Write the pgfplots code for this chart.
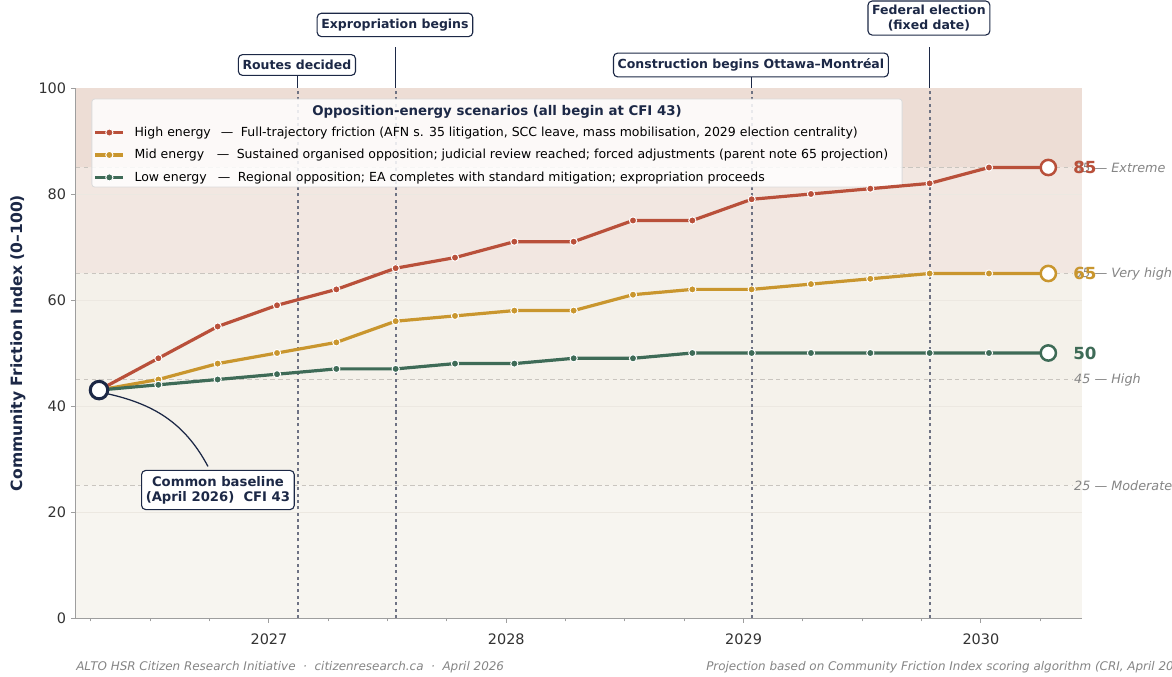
\documentclass[border=0pt]{standalone}
\usepackage{fontspec}
\setmainfont{DejaVu Sans}
\setsansfont{DejaVu Sans}
\usepackage{pgfplots}
\usepackage{pgfplotstable}
\pgfplotsset{compat=1.18}

\definecolor{high}{HTML}{B9503A}
\definecolor{mid}{HTML}{C9962E}
\definecolor{low}{HTML}{3E6B57}
\definecolor{navy}{HTML}{1C2846}
\definecolor{evline}{HTML}{6E7283}
\definecolor{zonedash}{HTML}{C9C5BF}
\definecolor{zonetxt}{HTML}{858585}
\definecolor{faint}{HTML}{ECE8E1}
\definecolor{bandA}{HTML}{EDDDD5}
\definecolor{bandB}{HTML}{F2E7E1}
\definecolor{bandC}{HTML}{F4F1EA}
\definecolor{bandD}{HTML}{F5F2EB}
\definecolor{bandE}{HTML}{F7F5F0}
\definecolor{spine}{HTML}{9E9E9E}
\definecolor{ticktxt}{HTML}{333333}

% quarterly projection, April 2026 to April 2030
\pgfplotstableread{
x        high mid low
2026.284 43   43  43
2026.534 49   45  44
2026.784 55   48  45
2027.034 59   50  46
2027.284 62   52  47
2027.534 66   56  47
2027.784 68   57  48
2028.034 71   58  48
2028.284 71   58  49
2028.534 75   61  49
2028.784 75   62  50
2029.034 79   62  50
2029.284 80   63  50
2029.534 81   64  50
2029.784 82   65  50
2030.034 85   65  50
2030.284 85   65  50
}\cfi

\tikzset{
  evbox/.style={draw=navy, line width=0.8pt, fill=white, rounded corners=3pt,
    inner xsep=3pt, inner ysep=4pt, text=navy, font=\fontsize{9}{10.5}\selectfont\bfseries, align=center},
  zonelbl/.style={anchor=west, inner sep=0pt, text=zonetxt, font=\fontsize{9.2}{11}\selectfont\itshape},
  endlbl/.style={anchor=west, inner sep=0pt, font=\fontsize{12}{14}\selectfont\bfseries},
}

\begin{document}
\begin{tikzpicture}
\fill[white] (0,0) rectangle (843.84pt,487.44pt);
\begin{axis}[
  at={(54.72pt,42.48pt)}, anchor=south west,
  width=724.32pt, height=381.6pt, scale only axis,
  xmin=2026.187, xmax=2030.426, ymin=0, ymax=100,
  axis x line*=bottom, axis y line*=left,
  axis line style={draw=spine, line width=0.8pt},
  xtick={2027,2028,2029,2030},
  xticklabels={2027,2028,2029,2030},
  minor xtick={2026.25,2026.5,2026.75,2027.25,2027.5,2027.75,2028.25,2028.5,2028.75,2029.25,2029.5,2029.75,2030.25},
  ytick={0,20,40,60,80,100},
  tick align=outside,
  major tick length=3.6pt, minor tick length=2.4pt,
  tick style={draw=spine, line width=0.7pt},
  /pgf/number format/assume math mode=true,
  ticklabel style={font=\fontsize{10.4}{12}\selectfont, text=ticktxt},
  x tick label style={yshift=-4pt},
  clip=false,
  legend style={at={(0.0175,0.930)}, anchor=north west, draw=none, fill=none,
    font=\fontsize{9}{11}\selectfont, row sep=5.8pt, inner sep=0pt,
    nodes={inner sep=1pt},
    /tikz/every odd column/.append style={column sep=6pt}},
  legend cell align=left,
  legend image code/.code={%
    \draw[mark repeat=2,mark phase=2,#1] plot coordinates {(0pt,0pt) (10pt,0pt) (20pt,0pt)};},
]
% risk bands
\fill[bandE] (axis cs:2026.187,0)  rectangle (axis cs:2030.426,25);
\fill[bandD] (axis cs:2026.187,25) rectangle (axis cs:2030.426,45);
\fill[bandC] (axis cs:2026.187,45) rectangle (axis cs:2030.426,65);
\fill[bandB] (axis cs:2026.187,65) rectangle (axis cs:2030.426,85);
\fill[bandA] (axis cs:2026.187,85) rectangle (axis cs:2030.426,100);
% faint grid
\pgfplotsinvokeforeach{20,40,60,80}{
  \draw[faint, line width=0.5pt] (axis cs:2026.187,#1) -- (axis cs:2030.426,#1);}
% zone thresholds
\pgfplotsinvokeforeach{25,45,65,85}{
  \draw[zonedash, line width=0.8pt, dash pattern=on 3.2pt off 2.4pt] (axis cs:2026.187,#1) -- (axis cs:2030.385,#1);}
\node[zonelbl] at (axis cs:2030.392,85) {85 — Extreme};
\node[zonelbl] at (axis cs:2030.392,65) {65 — Very high};
\node[zonelbl] at (axis cs:2030.392,45) {45 — High};
\node[zonelbl] at (axis cs:2030.392,25) {25 — Moderate};
% events
\pgfplotsinvokeforeach{2027.122,2027.535,2029.035,2029.785}{
  \draw[evline, line width=1.2pt, dash pattern=on 2.2pt off 2.4pt] (axis cs:#1,0) -- (axis cs:#1,100);}
\draw[navy, line width=0.8pt] (axis cs:2027.122,100) -- (axis cs:2027.122,102.3);
\draw[navy, line width=0.8pt] (axis cs:2027.535,100) -- (axis cs:2027.535,107.8);
\draw[navy, line width=0.8pt] (axis cs:2029.035,100) -- (axis cs:2029.035,102.3);
\draw[navy, line width=0.8pt] (axis cs:2029.785,100) -- (axis cs:2029.785,107.8);
\node[evbox] at (axis cs:2027.118,104.34) {Routes decided};
\node[evbox] at (axis cs:2027.531,111.9) {Expropriation begins};
\node[evbox] at (axis cs:2029.031,104.34) {Construction begins Ottawa–Montréal};
\node[evbox, inner ysep=3pt] at (axis cs:2029.781,113.2) {Federal election\\(fixed date)};
% legend frame and title
\draw[draw=black!14, fill=white, fill opacity=0.85, rounded corners=2pt, line width=0.6pt]
  (axis cs:2026.254,97.92) rectangle (axis cs:2029.668,81.32);
\node[text=navy, font=\fontsize{9.6}{11}\selectfont\bfseries] at (axis cs:2027.961,95.5)
  {Opposition-energy scenarios (all begin at CFI 43)};
% scenarios
\addplot[color=high, line width=2.3pt, mark=*, mark size=2.6pt,
  mark options={fill=high, draw=white, line width=0.7pt}] table[x=x,y=high] {\cfi};
\addlegendentry{High energy\hspace{0.8em}—\hspace{0.6em}Full-trajectory friction (AFN s. 35 litigation, SCC leave, mass mobilisation, 2029 election centrality)}
\addplot[color=mid, line width=2.3pt, mark=*, mark size=2.6pt,
  mark options={fill=mid, draw=white, line width=0.7pt}] table[x=x,y=mid] {\cfi};
\addlegendentry{Mid energy\hspace{1.0em}—\hspace{0.6em}Sustained organised opposition; judicial review reached; forced adjustments (parent note 65 projection)}
\addplot[color=low, line width=2.3pt, mark=*, mark size=2.6pt,
  mark options={fill=low, draw=white, line width=0.7pt}] table[x=x,y=low] {\cfi};
\addlegendentry{Low energy\hspace{0.9em}—\hspace{0.6em}Regional opposition; EA completes with standard mitigation; expropriation proceeds}
% end points
\addplot[forget plot, only marks, mark=*, mark size=5.5pt, mark options={draw=high, fill=white, line width=1.8pt}] coordinates {(2030.284,85)};
\addplot[forget plot, only marks, mark=*, mark size=5.5pt, mark options={draw=mid, fill=white, line width=1.8pt}] coordinates {(2030.284,65)};
\addplot[forget plot, only marks, mark=*, mark size=5.5pt, mark options={draw=low, fill=white, line width=1.8pt}] coordinates {(2030.284,50)};
\node[endlbl, text=high] at (axis cs:2030.388,85) {85};
\node[endlbl, text=mid] at (axis cs:2030.388,65) {65};
\node[endlbl, text=low] at (axis cs:2030.388,50) {50};
% common baseline
\draw[navy, line width=0.9pt] (axis cs:2026.31,42.4) to[out=-12,in=118] (axis cs:2026.743,28.6);
\addplot[forget plot, only marks, mark=*, mark size=6.3pt, mark options={draw=navy, fill=white, line width=2.2pt}] coordinates {(2026.284,43)};
\node[evbox, inner ysep=4pt, font=\fontsize{9.5}{11}\selectfont\bfseries] at (axis cs:2026.785,24.15) {Common baseline\\(April 2026)\ \ CFI 43};
\end{axis}
\node[rotate=90, text=navy, font=\fontsize{11.2}{13}\selectfont\bfseries] at (12.96pt,240.5pt) {Community Friction Index (0–100)};
\node[anchor=west, inner sep=0pt, text=zonetxt, font=\fontsize{8.6}{10}\selectfont\itshape] at (54.72pt,7.2pt)
  {ALTO HSR Citizen Research Initiative\ \ ·\ \ citizenresearch.ca\ \ ·\ \ April 2026};
\node[anchor=west, inner sep=0pt, text=zonetxt, font=\fontsize{8.6}{10}\selectfont\itshape] at (508.3pt,7.2pt)
  {Projection based on Community Friction Index scoring algorithm (CRI, April 2026)};
\pgfresetboundingbox
\useasboundingbox (0,0) rectangle (843.84pt,487.44pt);
\end{tikzpicture}
\end{document}
